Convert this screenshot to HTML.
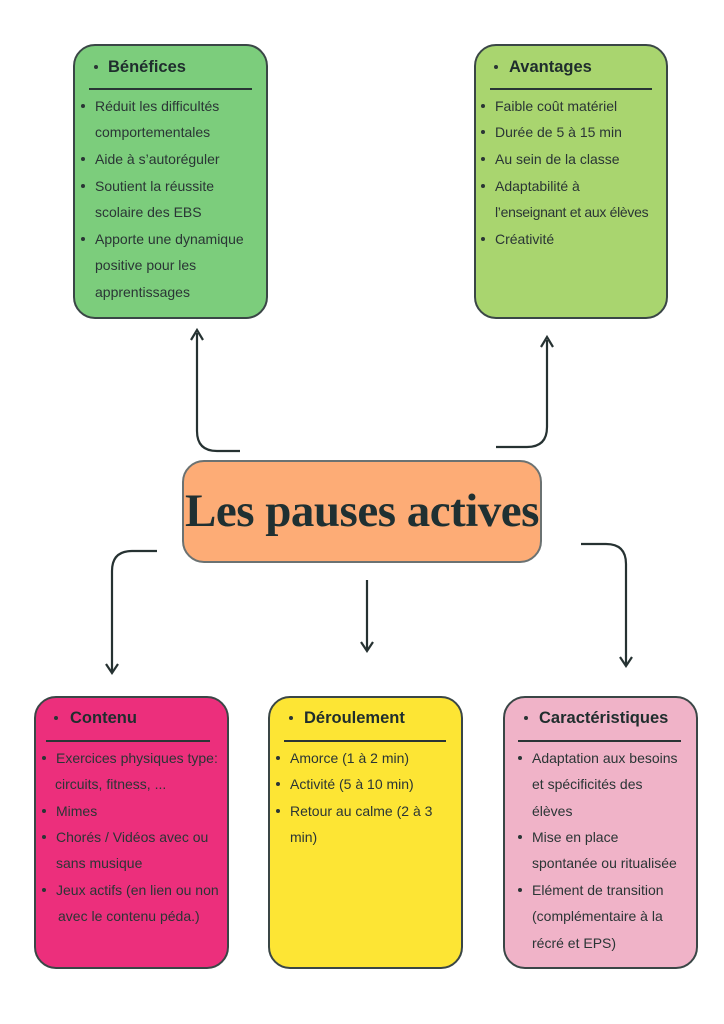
<!DOCTYPE html>
<html><head><meta charset="utf-8"><style>
*{margin:0;padding:0;box-sizing:border-box}
body{width:724px;height:1024px;background:#fff;position:relative;overflow:hidden;font-family:"Liberation Sans",sans-serif;color:#2a3535}
.box{position:absolute;border:2.5px solid #3a4646;border-radius:22px}
.h{position:absolute;font-weight:bold;font-size:16.5px;line-height:20px;color:#1f2d2d}
.r{position:absolute;height:1.6px;background:#2a3535}
.l{position:absolute;font-size:14px;line-height:18px;white-space:nowrap}
.b{position:absolute;width:4px;height:4px;border-radius:50%;background:#2a3535}
</style></head><body>
<svg width="724" height="1024" style="position:absolute;left:0;top:0" fill="none" stroke="#263232" stroke-width="2.2">
<path d="M240 451 H217 Q197 451 197 431 V333"/><path d="M191 340 L197 330 L203 340"/>
<path d="M496 447 H527 Q547 447 547 427 V340"/><path d="M541 347 L547 337 L553 347"/>
<path d="M157 551 H132 Q112 551 112 571 V671"/><path d="M106 664 L112 673 L118 664"/>
<path d="M367 580 V650"/><path d="M361 642 L367 651 L373 642"/>
<path d="M581 544 H606 Q626 544 626 564 V665"/><path d="M620 657 L626 666 L632 657"/>
</svg>
<div class="box" style="left:73px;top:44px;width:195px;height:275px;background:#7ccd7c"></div>
<div class="box" style="left:474px;top:44px;width:194px;height:275px;background:#a9d56f"></div>
<div class="box" style="left:182px;top:460px;width:360px;height:103px;background:#fdac76;border-color:#6b7272"></div>
<div class="box" style="left:34px;top:696px;width:195px;height:273px;background:#ec2f7c"></div>
<div class="box" style="left:268px;top:696px;width:195px;height:273px;background:#fde534"></div>
<div class="box" style="left:503px;top:696px;width:195px;height:273px;background:#f0b3c8"></div>
<div style="position:absolute;left:172px;top:484px;width:380px;text-align:center;font-family:'Liberation Serif',serif;font-weight:bold;font-size:47px;line-height:54px;color:#1f3032;letter-spacing:-0.5px">Les pauses actives</div>

<div class="b" style="left:94px;top:65px"></div><div class="h" style="left:108px;top:57px">Bénéfices</div>
<div class="r" style="left:89px;top:88px;width:163px"></div>
<div class="b" style="left:81px;top:104px"></div><div class="l" style="left:95px;top:97px">Réduit les difficultés</div>
<div class="l" style="left:95px;top:123px">comportementales</div>
<div class="b" style="left:81px;top:157px"></div><div class="l" style="left:95px;top:150px">Aide à s’autoréguler</div>
<div class="b" style="left:81px;top:184px"></div><div class="l" style="left:95px;top:177px">Soutient la réussite</div>
<div class="l" style="left:95px;top:203px">scolaire des EBS</div>
<div class="b" style="left:81px;top:237px"></div><div class="l" style="left:95px;top:230px">Apporte une dynamique</div>
<div class="l" style="left:95px;top:256px">positive pour les</div>
<div class="l" style="left:95px;top:283px">apprentissages</div>

<div class="b" style="left:494px;top:65px"></div><div class="h" style="left:509px;top:57px">Avantages</div>
<div class="r" style="left:490px;top:88px;width:162px"></div>
<div class="b" style="left:481px;top:104px"></div><div class="l" style="left:495px;top:97px">Faible coût matériel</div>
<div class="b" style="left:481px;top:130px"></div><div class="l" style="left:495px;top:123px">Durée de 5 à 15 min</div>
<div class="b" style="left:481px;top:157px"></div><div class="l" style="left:495px;top:150px">Au sein de la classe</div>
<div class="b" style="left:481px;top:184px"></div><div class="l" style="left:495px;top:177px">Adaptabilité à</div>
<div class="l" style="left:495px;top:203px;letter-spacing:-0.3px">l’enseignant et aux élèves</div>
<div class="b" style="left:481px;top:237px"></div><div class="l" style="left:495px;top:230px">Créativité</div>

<div class="b" style="left:54px;top:716px"></div><div class="h" style="left:70px;top:708px">Contenu</div>
<div class="r" style="left:46px;top:740px;width:164px"></div>
<div class="b" style="left:42px;top:756px"></div><div class="l" style="left:56px;top:749px">Exercices physiques type:</div>
<div class="l" style="left:55px;top:775px">circuits, fitness, ...</div>
<div class="b" style="left:42px;top:809px"></div><div class="l" style="left:56px;top:802px">Mimes</div>
<div class="b" style="left:42px;top:835px"></div><div class="l" style="left:56px;top:828px">Chorés / Vidéos avec ou</div>
<div class="l" style="left:56px;top:854px">sans musique</div>
<div class="b" style="left:42px;top:888px"></div><div class="l" style="left:56px;top:881px">Jeux actifs (en lien ou non</div>
<div class="l" style="left:58px;top:907px">avec le contenu péda.)</div>

<div class="b" style="left:289px;top:716px"></div><div class="h" style="left:304px;top:708px">Déroulement</div>
<div class="r" style="left:284px;top:740px;width:162px"></div>
<div class="b" style="left:276px;top:756px"></div><div class="l" style="left:290px;top:749px">Amorce (1 à 2 min)</div>
<div class="b" style="left:276px;top:782px"></div><div class="l" style="left:290px;top:775px">Activité (5 à 10 min)</div>
<div class="b" style="left:276px;top:809px"></div><div class="l" style="left:290px;top:802px">Retour au calme (2 à 3</div>
<div class="l" style="left:290px;top:828px">min)</div>

<div class="b" style="left:524px;top:716px"></div><div class="h" style="left:539px;top:708px">Caractéristiques</div>
<div class="r" style="left:518px;top:740px;width:163px"></div>
<div class="b" style="left:518px;top:756px"></div><div class="l" style="left:532px;top:749px">Adaptation aux besoins</div>
<div class="l" style="left:532px;top:775px">et spécificités des</div>
<div class="l" style="left:532px;top:802px">élèves</div>
<div class="b" style="left:518px;top:835px"></div><div class="l" style="left:532px;top:828px">Mise en place</div>
<div class="l" style="left:532px;top:854px">spontanée ou ritualisée</div>
<div class="b" style="left:518px;top:888px"></div><div class="l" style="left:532px;top:881px">Elément de transition</div>
<div class="l" style="left:532px;top:907px">(complémentaire à la</div>
<div class="l" style="left:532px;top:934px">récré et EPS)</div>
</body></html>
